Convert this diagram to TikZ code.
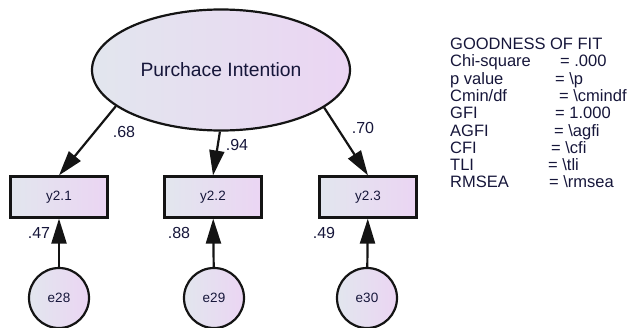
\documentclass[tikz,border=0pt]{standalone}
\usepackage{fontspec}
\setmainfont{Liberation Sans}
\usetikzlibrary{arrows.meta,shapes.geometric}
\definecolor{txt}{RGB}{22,22,58}
\definecolor{fillL}{RGB}{226,230,238}
\definecolor{fillR}{RGB}{235,213,243}
\definecolor{edge}{RGB}{20,20,20}
\tikzset{
  grad/.style={left color=fillL, right color=fillR, draw=edge, line width=2.2pt},
  latent/.style={grad, ellipse, minimum width=258pt, minimum height=121pt, inner sep=0pt,
    font=\fontsize{19.3}{21}\selectfont, text=txt},
  observed/.style={grad, rectangle, minimum width=97pt, minimum height=41pt, inner sep=0pt,
    font=\fontsize{13.5}{15}\selectfont, text=txt},
  errterm/.style={grad, circle, minimum size=60pt, inner sep=0pt,
    font=\fontsize{13.5}{15}\selectfont, text=txt},
  path/.style={draw=edge, line width=2.2pt, -{Triangle[length=25pt,width=15pt]}},
  coef/.style={font=\fontsize{16}{18}\selectfont, text=txt, inner sep=0pt},
  fit/.style={font=\fontsize{16.5}{18}\selectfont, text=txt, anchor=base west, inner sep=0pt},
}
\begin{document}
\begin{tikzpicture}[x=1pt, y=-1pt]
  \useasboundingbox (0,0) rectangle (627,327);

  % latent construct
  \node[latent] (pi) at (221,70) {Purchace Intention};

  % indicators
  \node[observed] (y1) at (59,197) {y2.1};
  \node[observed] (y2) at (213,197) {y2.2};
  \node[observed] (y3) at (368,197) {y2.3};

  % error terms
  \node[errterm] (e1) at (59,298) {e28};
  \node[errterm] (e2) at (214,298) {e29};
  \node[errterm] (e3) at (367,298) {e30};

  % loadings
  \draw[path] (pi.199) -- (y1.north);
  \draw[path] (pi.269) -- (y2.north);
  \draw[path] (pi.340) -- (y3.north);

  % error paths
  \draw[path] (e1) -- (y1);
  \draw[path] (e2) -- (y2);
  \draw[path] (e3) -- (y3);

  % standardized estimates
  \node[coef] (c1) at (124,132) {.68};
  \node[coef] (c2) at (237,145) {.94};
  \node[coef] (c3) at (363,128) {.70};
  \node[coef] (r1) at (39,233) {.47};
  \node[coef] (r2) at (179,233) {.88};
  \node[coef] (r3) at (324,233) {.49};

  % fit indices
  \node[fit] (g0) at (450,49.5) {GOODNESS OF FIT};
  \node[fit] (g1) at (450,66.8) {Chi-square};
  \node[fit] (v1) at (560,66.8) {= .000};
  \node[fit] (g2) at (450,84.1) {p value};
  \node[fit] (v2) at (555,84.1) {= \textbackslash p};
  \node[fit] (g3) at (450,101.4) {Cmin/df};
  \node[fit] (v3) at (559,101.4) {= \textbackslash cmindf};
  \node[fit] (g4) at (450,118.7) {GFI};
  \node[fit] (v4) at (555,118.7) {= 1.000};
  \node[fit] (g5) at (450,136) {AGFI};
  \node[fit] (v5) at (554,136) {= \textbackslash agfi};
  \node[fit] (g6) at (450,153.3) {CFI};
  \node[fit] (v6) at (551,153.3) {= \textbackslash cfi};
  \node[fit] (g7) at (450,170.6) {TLI};
  \node[fit] (v7) at (548,170.6) {= \textbackslash tli};
  \node[fit] (g8) at (450,187.9) {RMSEA};
  \node[fit] (v8) at (549,187.9) {= \textbackslash rmsea};
\end{tikzpicture}
\end{document}
